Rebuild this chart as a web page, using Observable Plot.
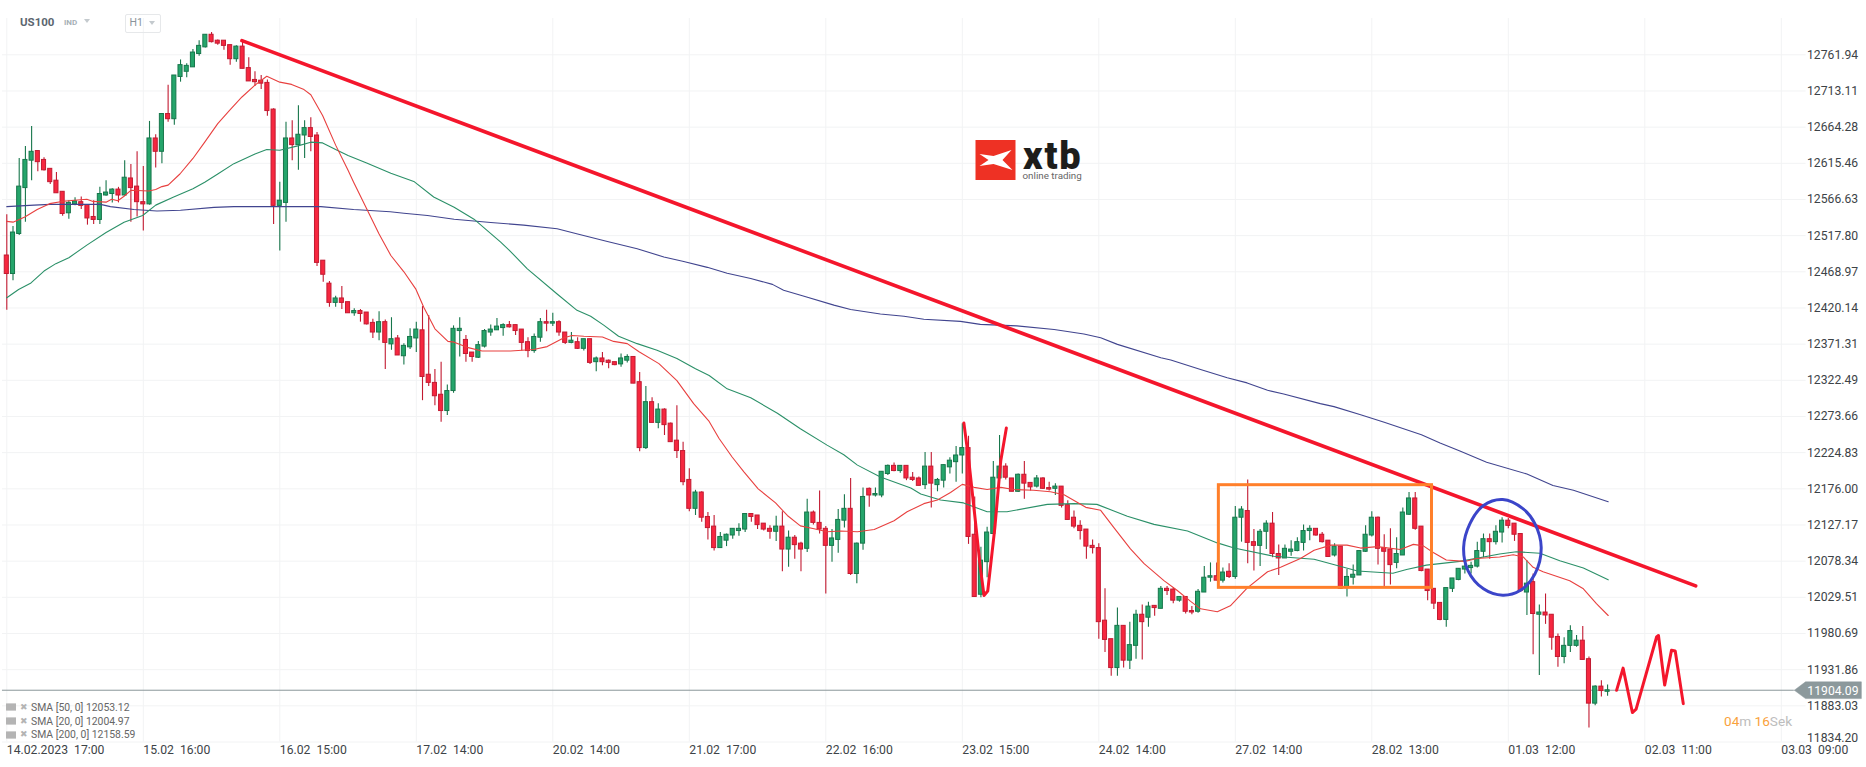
<!DOCTYPE html>
<html>
<head>
<meta charset="utf-8">
<script src="https://cdn.jsdelivr.net/npm/d3@7"></script>
<script src="https://cdn.jsdelivr.net/npm/@observablehq/plot@0.6"></script>
<style>
html,body{margin:0;padding:0;background:#fff;overflow:hidden;font-family:Roboto,sans-serif}
#wrap{position:relative;width:1866px;height:767px}
#wrap svg{display:block}
.o{position:absolute;white-space:pre;line-height:1}
.caret{position:absolute;width:0;height:0;border-left:3.5px solid transparent;border-right:3.5px solid transparent;border-top:4px solid #c4cace}
.lg{position:absolute;left:31px;font-size:10.4px;color:#666;white-space:pre;line-height:1}
.ic{position:absolute;left:6px;width:10px;height:6px;background:#b4b4b4;border-bottom:1px solid #d0d0d0;border-top:1px solid #d0d0d0}
.xx{position:absolute;left:20px;font-size:9px;color:#b4b4b4;line-height:1;font-family:"DejaVu Sans"}
</style>
</head>
<body>
<div id="wrap"></div>
<script>
const opens = [
12491,12466,12520,12582,12619,12632,12620,12608,12592,12577,
12548,12560,12563,12559,12543,12539,12572,12574,12580,12572,
12595,12584,12563,12560,12649,12631,12682,12675,12732,12739,
12745,12763,12772,12789,12781,12781,12775,12756,12773,12744,
12728,12727,12724,12688,12558,12562,12649,12640,12653,12663,
12653,12484,12453,12427,12433,12428,12413,12416,12414,12400,
12387,12401,12371,12379,12355,12367,12379,12390,12330,12319,
12303,12281,12308,12389,12377,12360,12353,12368,12387,12390,
12393,12397,12397,12391,12374,12362,12380,12401,12399,12401,
12387,12373,12374,12365,12378,12347,12352,12349,12347,12344,
12349,12354,12320,12231,12293,12265,12283,12264,12241,12227,
12188,12149,12171,12138,12125,12096,12106,12113,12119,12121,
12142,12140,12129,12122,12118,12125,12094,12110,12102,12095,
12144,12130,12122,12099,12107,12133,12149,12061,12102,12176,
12167,12167,12196,12207,12200,12207,12191,12190,12181,12206,
12181,12187,12205,12212,12221,12231,12114,12033,12077,12115,
12190,12206,12190,12172,12195,12184,12179,12190,12177,12176,
12179,12154,12137,12126,12121,12099,12096,11998,11973,11934,
11991,11944,11964,12006,12002,12018,12014,12041,12040,12025,
12030,12011,12010,12036,12056,12058,12052,12064,12057,12137,
12146,12104,12099,12118,12129,12088,12082,12091,12092,12103,
12119,12122,12114,12106,12086,12098,12042,12056,12059,12091,
12113,12137,12096,12094,12076,12086,12141,12163,12125,12067,
12041,12022,11999,12041,12053,12067,12069,12071,12091,12108,
12104,12117,12133,12129,12115,12036,12050,12006,12009,12006,
11976,11949,11964,11964,11971,11946,11886,11909,11902];
const highs = [
12546,12530,12622,12638,12665,12632,12623,12608,12603,12577,
12565,12569,12570,12559,12565,12583,12592,12581,12583,12619,
12614,12631,12611,12672,12654,12682,12721,12734,12755,12750,
12769,12781,12789,12792,12782,12781,12775,12774,12782,12758,
12739,12734,12728,12689,12590,12671,12673,12693,12673,12677,
12657,12484,12456,12436,12449,12428,12419,12418,12414,12405,
12415,12404,12407,12383,12372,12392,12401,12422,12410,12337,
12347,12316,12396,12407,12383,12360,12375,12391,12397,12406,
12399,12402,12397,12391,12380,12385,12406,12417,12413,12403,
12387,12387,12380,12378,12378,12354,12360,12350,12347,12358,
12357,12354,12333,12314,12299,12291,12284,12265,12288,12239,
12203,12174,12172,12144,12140,12117,12115,12122,12129,12142,
12142,12140,12129,12126,12139,12145,12119,12113,12104,12162,
12146,12173,12125,12121,12148,12168,12190,12103,12177,12177,
12177,12199,12208,12211,12207,12207,12198,12192,12225,12225,
12190,12208,12218,12233,12264,12247,12165,12097,12124,12213,
12248,12210,12190,12196,12213,12184,12194,12191,12185,12183,
12179,12160,12146,12133,12121,12107,12102,12041,11973,12015,
11991,11996,12012,12019,12023,12018,12044,12044,12042,12030,
12030,12017,12040,12071,12076,12076,12069,12075,12152,12152,
12188,12121,12121,12133,12144,12100,12100,12106,12110,12127,
12126,12122,12117,12106,12102,12098,12067,12073,12092,12126,
12145,12138,12114,12122,12110,12150,12171,12171,12125,12067,
12041,12022,12042,12055,12068,12080,12077,12104,12115,12115,
12126,12137,12136,12129,12115,12079,12061,12019,12034,12006,
11980,11975,11991,11978,11990,11949,11910,11917,11911];
const lows = [
12417,12457,12518,12536,12592,12604,12605,12587,12575,12544,
12540,12558,12553,12532,12533,12533,12571,12562,12562,12571,
12536,12543,12524,12559,12609,12615,12671,12667,12725,12731,
12745,12760,12771,12778,12775,12768,12748,12752,12743,12726,
12719,12715,12679,12533,12497,12536,12619,12606,12622,12631,
12476,12455,12421,12421,12418,12413,12409,12401,12397,12379,
12376,12337,12363,12356,12343,12364,12360,12295,12314,12288,
12266,12275,12305,12354,12347,12347,12352,12366,12382,12390,
12382,12393,12383,12362,12353,12359,12374,12388,12395,12382,
12371,12372,12364,12362,12344,12334,12342,12338,12342,12340,
12346,12318,12226,12229,12265,12257,12248,12239,12217,12180,
12145,12140,12131,12107,12092,12096,12098,12108,12112,12117,
12131,12121,12119,12108,12105,12064,12070,12081,12064,12090,
12127,12115,12034,12077,12089,12123,12059,12048,12093,12151,
12165,12164,12194,12199,12197,12187,12186,12180,12175,12150,
12172,12177,12196,12185,12196,12101,12030,12029,12056,12115,
12190,12188,12172,12171,12162,12173,12177,12175,12173,12167,
12150,12134,12122,12107,12081,12088,11973,11955,11923,11923,
11934,11932,11946,11945,11989,12004,12014,12032,12021,12023,
12007,12006,12008,12036,12050,12052,12049,12055,12054,12104,
12075,12065,12071,12094,12083,12059,12082,12085,12091,12092,
12106,12112,12103,12084,12084,12040,12030,12046,12059,12090,
12111,12073,12044,12046,12068,12086,12140,12120,12064,12025,
12013,11998,11989,12036,12052,12061,12061,12069,12083,12081,
12100,12103,12122,12105,12036,12005,11952,11924,11993,11958,
11935,11940,11955,11962,11945,11853,11883,11895,11896];
const closes = [
12466,12522,12584,12620,12631,12617,12606,12590,12575,12547,
12562,12564,12558,12541,12539,12574,12576,12580,12572,12596,
12582,12563,12560,12649,12631,12682,12675,12734,12748,12747,
12765,12774,12789,12779,12777,12774,12756,12773,12743,12726,
12725,12723,12686,12558,12565,12649,12640,12654,12663,12651,
12481,12465,12427,12433,12427,12413,12416,12412,12398,12387,
12401,12373,12378,12356,12369,12381,12391,12327,12319,12301,
12281,12308,12392,12392,12358,12354,12370,12389,12391,12395,
12397,12394,12389,12373,12362,12381,12401,12399,12401,12387,
12373,12376,12365,12378,12346,12352,12347,12346,12343,12352,
12354,12318,12231,12293,12265,12283,12262,12239,12227,12185,
12149,12171,12137,12123,12096,12111,12114,12122,12122,12142,
12138,12127,12121,12118,12125,12094,12110,12100,12094,12144,
12130,12121,12099,12109,12134,12149,12061,12102,12165,12167,
12169,12199,12207,12200,12207,12190,12188,12180,12206,12183,
12188,12208,12214,12221,12231,12111,12030,12079,12117,12191,
12206,12191,12172,12195,12183,12178,12190,12176,12175,12179,
12153,12134,12125,12119,12098,12096,11996,11972,11934,11991,
11944,11965,12006,11996,12017,12015,12041,12038,12025,12030,
12010,12009,12037,12056,12058,12052,12063,12057,12137,12148,
12103,12099,12118,12129,12088,12082,12095,12094,12104,12119,
12122,12113,12104,12084,12098,12041,12057,12060,12092,12114,
12137,12095,12091,12073,12088,12144,12163,12122,12065,12038,
12021,11999,12042,12055,12068,12071,12072,12092,12108,12104,
12118,12133,12126,12114,12038,12048,12007,12009,12005,11975,
11949,11964,11984,11971,11945,11886,11909,11903,11904];

const sma20 = [[0,12537],[1,12536],[2.9,12543],[4.9,12553],[6.9,12561],[8.9,12564],[10,12565],[12.9,12567],[13.9,12564],[16,12563],[16.9,12567],[17.9,12565],[18.9,12571],[20,12579],[22.9,12578],[24,12580],[25,12584],[26,12586],[27.9,12601],[30,12622],[31.9,12644],[34,12669],[35.9,12687],[37.9,12705],[40,12721],[41.9,12733],[44,12725],[45.9,12722],[47.9,12715],[49,12708],[50.9,12680],[53,12640],[55,12606],[55.9,12590],[58,12554],[60,12520],[61.9,12491],[64,12469],[65.9,12446],[67.2,12421],[69,12392],[71.1,12375],[72.1,12374],[74.2,12367],[76.6,12362],[81.2,12362],[84.9,12364],[87.1,12368],[89.8,12380],[91.1,12383],[93,12382],[96,12381],[97.8,12375],[100,12372],[101.9,12361],[105.1,12345],[108,12322],[110.7,12291],[113.2,12267],[114.8,12244],[116.9,12219],[118.8,12199],[121.1,12176],[123.9,12157],[125.8,12140],[127.9,12126],[130.1,12122],[132.2,12118],[134.4,12119],[137.1,12118],[139.8,12121],[143,12133],[145.1,12145],[147.8,12156],[150,12161],[152.1,12171],[154,12182],[155.9,12178],[158,12175],[160.2,12178],[162.3,12175],[165.5,12174],[168.2,12172],[170.4,12168],[172.5,12158],[173.9,12151],[176.3,12147],[178.4,12124],[181.1,12095],[183.3,12075],[186.5,12052],[188.6,12039],[190.8,12024],[192.4,12014],[195.1,12010],[197.2,12018],[199.9,12042],[203.2,12064],[205.3,12070],[208.5,12082],[210.7,12093],[213.4,12100],[216,12100],[218.2,12096],[220.9,12098],[224.6,12094],[226.7,12101],[228.3,12099],[229.9,12090],[232,12080],[235,12078],[236.9,12082],[240.6,12084],[242.8,12087],[244.4,12084],[246,12070],[247.6,12064],[251.9,12052],[254.1,12041],[256.2,12021],[258.1,12004.97]];

const sma50 = [[0,12434],[1.9,12445],[3.9,12454],[6,12470],[7.9,12480],[10,12488],[12.9,12505],[16,12522],[18.9,12536],[21.9,12545],[24,12559],[26.9,12570],[30,12581],[31.9,12590],[34,12601],[36.6,12615],[40,12628],[41.9,12634],[44,12633],[46.9,12639],[49,12644],[50.9,12643],[53,12634],[55,12626],[58,12616],[61.9,12602],[65.6,12591],[68.8,12570],[72.1,12556],[75.3,12540],[77.4,12525],[79.6,12509],[81,12498],[83.9,12473],[88.7,12439],[91.9,12417],[94.1,12409],[96.2,12397],[98.6,12382],[101.6,12372],[104.8,12363],[108,12352],[111,12338],[113.2,12329],[116.1,12311],[119.9,12299],[124.2,12278],[127.9,12257],[132.2,12235],[134.9,12222],[137.1,12208],[140.8,12192],[145.7,12177],[147.3,12169],[150.5,12161],[154.2,12157],[158,12145],[161.2,12145],[167.7,12155],[172,12156],[175.7,12155],[180.6,12139],[184.9,12128],[190.3,12119],[195.1,12103],[197.8,12096],[204.2,12085],[210.7,12081],[217.7,12065],[223.4,12062],[225.6,12067],[228.8,12073],[234.2,12078],[240.6,12088],[243.3,12091],[247.1,12089],[250.3,12079],[254.1,12069],[258.1,12053.12]];

const sma200 = [[0,12557],[4.4,12559],[7,12560],[15.1,12560],[16.7,12557],[20.5,12553],[24.2,12551],[28,12552],[33.4,12556],[36.6,12557],[50.6,12557],[55.9,12553],[61.8,12550],[64,12548],[67.8,12545],[72.1,12540],[78,12535.5],[83.3,12532],[88.7,12527],[92,12520],[96.8,12510],[101.6,12500],[105.9,12489],[109.1,12483],[112.9,12475],[116.1,12467],[119.9,12460],[123.4,12452],[125.2,12444],[128.5,12436],[133.3,12424],[136,12418],[140.8,12412],[144.6,12409],[147.8,12405],[153.7,12402],[156.9,12398],[162.8,12396],[168.8,12391],[173.6,12385],[176.3,12380],[179,12371],[186,12353],[187.6,12350],[192.4,12337],[196.7,12326],[199.9,12319],[203.2,12309],[205.8,12304],[211.7,12291],[213.9,12287],[218.2,12276],[222,12266],[228,12249],[231,12238],[234.2,12227],[238.5,12212],[245,12196],[249.2,12180.5],[252.5,12174],[258.1,12158.59]];

const trendLine = [[37.9,12781],[272.2,12045]];
const squiggle = [[154.25,12265],[155.05,12214],[156.1,12133],[156.9,12070],[157.5,12032],[158.1,12038],[159.25,12124],[160.2,12214],[161.1,12258]];
const zigzag = [[259.45,11904],[260.5,11934],[262,11874],[262.6,11878.5],[265.9,11976],[266.2,11978],[267.2,11911],[268.3,11958],[268.9,11957],[270.2,11886]];
const rangeBox = [{i1:195.35,i2:229.7,p1:12042.3,p2:12180.9}];
const circle = [[241.1,12161.6],[238,12153.5],[235.8,12128.7],[234.8,12097.2],[235.5,12065.7],[238,12041],[241.1,12032.4],[243.9,12038.7],[246.3,12061.2],[247.3,12097.2],[246.3,12128.7],[244.4,12149]];

const lastPrice = 11904.09;
const priceTag = [[288.1,lastPrice],[289.9,lastPrice+11.3],[298.9,lastPrice+11.3],[298.9,lastPrice-11.3],[289.9,lastPrice-11.3],[288.1,lastPrice]];

const yTicks = [12761.94,12713.11,12664.28,12615.46,12566.63,12517.80,12468.97,12420.14,12371.31,12322.49,12273.66,12224.83,12176.00,12127.17,12078.34,12029.51,11980.69,11931.86,11883.03];
const yBottom = 11834.20;
const xTicks = [0,22,44,66,88,110,132,154,176,198,220,242,264,286];
const xLabels = ["14.02.2023  17:00","15.02  16:00","16.02  15:00","17.02  14:00","20.02  14:00","21.02  17:00","22.02  16:00","23.02  15:00","24.02  14:00","27.02  14:00","28.02  13:00","01.03  12:00","02.03  11:00","03.03  09:00"];
const legendRows = [["SMA [50, 0] 12053.12"],["SMA [20, 0] 12004.97"],["SMA [200, 0] 12158.59"]];

const candles = opens.map((o,i)=>({i,o,h:highs[i],l:lows[i],c:closes[i]}));
const up = d=>d.c>=d.o, down = d=>d.c<d.o;
const RED="#f6273f",REDD="#c21a31",GRN="#25a56b",GRND="#17764b";
const labelOf = new Map(xTicks.map((t,i)=>[t,xLabels[i].replace(/ /g,"\u00a0")]));
const fmt = d3.format(".2f");
const axisStyle = {anchor:"right",tickSize:0,tickPadding:0.5,fontSize:12.2,fill:"#3d4347",label:null,tickFormat:fmt};
const px = (arr,o)=>Plot.line(arr,{x:d=>d[0],y:d=>d[1],...o});

const chart = Plot.plot({
  width:1866,height:767,
  marginTop:0,marginLeft:0,marginRight:60,marginBottom:25.5,
  style:{fontFamily:"Roboto, sans-serif",background:"#fff",maxWidth:"none"},
  x:{type:"linear",domain:[-1.015,290.06]},
  y:{type:"linear",domain:[yBottom,12835.25]},
  marks:[
    Plot.gridX(xTicks,{y1:12811,y2:yBottom,stroke:"#f2f3f4",strokeOpacity:1}),
    Plot.gridY([...yTicks,yBottom],{x1:-0.7,x2:290,stroke:"#f2f3f4",strokeOpacity:1}),
    Plot.ruleY([lastPrice],{x1:-0.7,x2:288.1,stroke:"#8a9699",strokeWidth:1}),
    Plot.ruleX(candles,{filter:up,x:"i",y1:"l",y2:"h",stroke:GRND,strokeWidth:1.1}),
    Plot.ruleX(candles,{filter:down,x:"i",y1:"l",y2:"h",stroke:REDD,strokeWidth:1.1}),
    Plot.rect(candles,{filter:up,x1:d=>d.i-0.33,x2:d=>d.i+0.33,y1:"o",y2:"c",fill:GRN,stroke:GRND,strokeWidth:1}),
    Plot.rect(candles,{filter:down,x1:d=>d.i-0.33,x2:d=>d.i+0.33,y1:"o",y2:"c",fill:RED,stroke:REDD,strokeWidth:1}),
    px(sma200,{stroke:"#41458f",strokeWidth:1.1}),
    px(sma50,{stroke:"#2b9068",strokeWidth:1.1}),
    px(sma20,{stroke:"#e8403f",strokeWidth:1.1}),
    px(trendLine,{stroke:"#f4162c",strokeWidth:3.6}),
    px(squiggle,{stroke:"#f4162c",strokeWidth:3}),
    px(zigzag,{stroke:"#f4162c",strokeWidth:3}),
    Plot.rect(rangeBox,{x1:"i1",x2:"i2",y1:"p1",y2:"p2",fill:"none",stroke:"#ff7f2a",strokeWidth:3}),
    px(circle,{stroke:"#3b45c9",strokeWidth:3,curve:"catmull-rom-closed"}),
    Plot.line(priceTag,{x:d=>d[0],y:d=>d[1],fill:"#8c999c",stroke:"#8c999c",strokeWidth:0.5}),
    Plot.text([lastPrice],{x:290.2,y:d=>d,dy:1,text:fmt,textAnchor:"start",fill:"#fff",fontSize:12.2}),
    Plot.axisY({...axisStyle,ticks:yTicks}),
    Plot.axisY({...axisStyle,ticks:[yBottom],dy:-4}),
    Plot.axisX({ticks:xTicks,anchor:"bottom",tickSize:0,tickPadding:3,textAnchor:"start",fontSize:12.2,fill:"#3d4347",label:null,tickFormat:d=>labelOf.get(d)})
  ]
});
const wrap = document.getElementById("wrap");
wrap.appendChild(chart);

const html = `
<div class="o" style="left:20px;top:17px;font-size:11.5px;font-weight:700;color:#5b6670">US100</div>
<div class="o" style="left:64px;top:19px;font-size:8px;font-weight:700;color:#a6b0b6">IND</div>
<div class="caret" style="left:84px;top:19px"></div>
<div style="position:absolute;left:124.5px;top:13.5px;width:34px;height:17px;border:1px solid #e6e8ea;border-radius:2px"></div>
<div class="o" style="left:129.5px;top:18px;font-size:10.5px;color:#8a949b">H1</div>
<div class="caret" style="left:148.5px;top:21px"></div>
<svg style="position:absolute;left:975px;top:140px" width="41" height="40" viewBox="0 0 40 40">
  <rect width="40" height="40" fill="#ee3124"/>
  <path d="M4,14 L18,16 L36,10 L27,20 L37,30 L18,24 L4,26 L13,20 Z" fill="#fff"/>
</svg>
<div class="o" style="left:1023px;top:137px;font-size:38px;font-weight:900;color:#1d1d1b;letter-spacing:1.8px">xtb</div>
<div class="o" style="left:1022.5px;top:171px;font-size:9.8px;color:#666">online trading</div>
<div class="o" style="left:1724px;top:715px;font-size:13.6px"><span style="color:#f9a23c">04</span><span style="color:#bdbdbd">m </span><span style="color:#f9a23c">16</span><span style="color:#bdbdbd">Sek</span></div>
${legendRows.map((r,k)=>{const t=[702.5,716.5,730][k];return `<div class="ic" style="top:${t+0.5}px"></div><div class="xx" style="top:${t}px">✖</div><div class="lg" style="top:${t}px">${r[0]}</div>`}).join("")}
`;
const layer = document.createElement("div");
layer.innerHTML = html;
wrap.appendChild(layer);
</script>
</body>
</html>
